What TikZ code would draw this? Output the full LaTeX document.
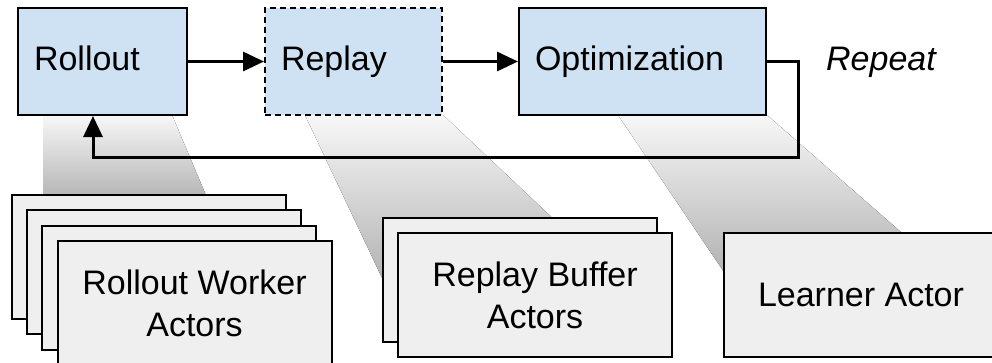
\documentclass[tikz,border=0pt]{standalone}
\usepackage{fontspec}
\setmainfont{Liberation Sans}
\usetikzlibrary{arrows.meta}
\definecolor{stepblue}{HTML}{CFE2F3}
\definecolor{actorgray}{HTML}{EFEFEF}
\begin{document}
\begin{tikzpicture}[x=1pt,y=-1pt,>={Triangle[length=21pt,width=19pt]},
    every node/.style={font=\fontsize{34}{42}\selectfont},
    stage/.style={draw,fill=stepblue,line width=2pt,minimum height=107pt,inner xsep=16pt,
        text height=25pt,text depth=7pt,align=left},
    actorbox/.style={draw,fill=actorgray,line width=2pt,minimum width=274pt,minimum height=124pt,align=center},
    beam/.style={top color=white!97!black,bottom color=black!30}]
    \useasboundingbox (0,0) rectangle (992,362);
    \clip (0,0) rectangle (992,362);
    % shadows
    \fill[beam](43,115)--(172,115)--(208,200)--(43,200)--cycle;
    \fill[beam](305,115)--(443,115)--(560,225)--(383,280)--cycle;
    \fill[beam](618,115)--(767,115)--(910,240)--(724,272)--cycle;
    % stages
    \node[stage,text width=137pt](rollout)at(102.5,61.5){Rollout};
    \node[stage,dash pattern=on 6pt off 4pt,text width=145pt](replay)at(353.5,61.5){Replay};
    \node[stage,text width=215pt](optim)at(642.5,61.5){Optimization};
    \node[font=\fontsize{34}{42}\selectfont\itshape](repeat)at(881,62){Repeat};
    \draw[->,line width=3pt](rollout)--(replay);
    \draw[->,line width=3pt](replay)--(optim);
    \coordinate(turn)at(798,157);
    \coordinate(back)at(93,157);
    \draw[->,line width=3pt](optim.east)-|(turn)--(back)--(back|-rollout.south);
    % actors
    \foreach \i in {0,1,2}
        \node[actorbox](rw\i)at(148.5+15.3*\i,257+15.3*\i){};
    \node[actorbox](rworker)at(194.5,303){Rollout Worker\\Actors};
    \node[actorbox](rb0)at(520,280){};
    \node[actorbox](rbuffer)at(535,295){Replay Buffer\\Actors};
    \node[actorbox](learner)at(861,295){Learner Actor};
\end{tikzpicture}
\end{document}
